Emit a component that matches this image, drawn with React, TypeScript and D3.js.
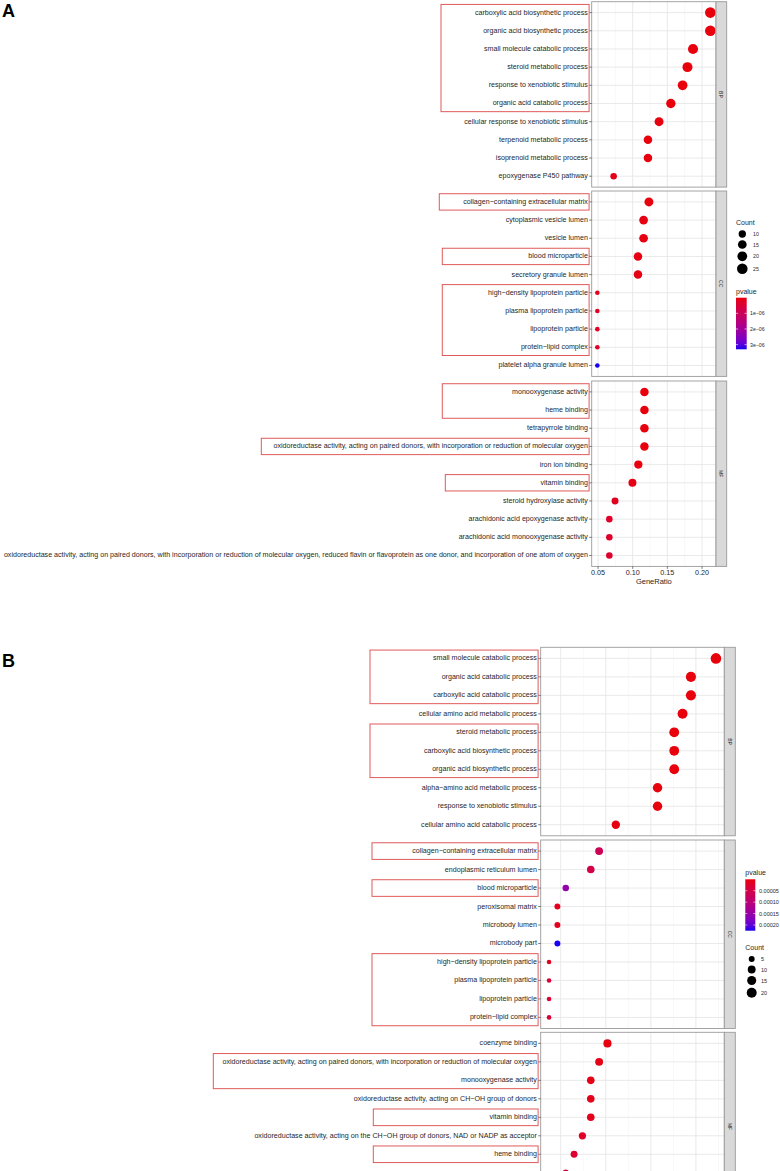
import React from 'react';
import * as d3 from 'd3';

// ---------------- Panel A data ----------------
const A_BP_terms = [
  'carboxylic acid biosynthetic process',
  'organic acid biosynthetic process',
  'small molecule catabolic process',
  'steroid metabolic process',
  'response to xenobiotic stimulus',
  'organic acid catabolic process',
  'cellular response to xenobiotic stimulus',
  'terpenoid metabolic process',
  'isoprenoid metabolic process',
  'epoxygenase P450 pathway',
];
const A_BP_ratio = [0.212, 0.212, 0.187, 0.179, 0.172, 0.155, 0.138, 0.122, 0.122, 0.0725];
const A_BP_count = [25, 25, 22, 21, 20, 18, 16, 14, 14, 8];
const A_BP_p = [2.1e-12, 3.5e-12, 1.2e-11, 4.0e-10, 6.3e-10, 2.2e-9, 1.5e-8, 8.0e-9, 9.1e-9, 1.1e-7];

const A_CC_terms = [
  'collagen\u2212containing extracellular matrix',
  'cytoplasmic vesicle lumen',
  'vesicle lumen',
  'blood microparticle',
  'secretory granule lumen',
  'high\u2212density lipoprotein particle',
  'plasma lipoprotein particle',
  'lipoprotein particle',
  'protein\u2212lipid complex',
  'platelet alpha granule lumen',
];
const A_CC_ratio = [0.1234, 0.1157, 0.1157, 0.1076, 0.1076, 0.049, 0.049, 0.049, 0.049, 0.049];
const A_CC_count = [16, 15, 15, 14, 14, 6, 6, 6, 6, 6];
const A_CC_p = [5.0e-9, 2.1e-8, 3.0e-8, 4.0e-8, 6.5e-8, 1.8e-7, 2.0e-7, 2.2e-7, 2.6e-7, 3.3e-6];

const A_MF_terms = [
  'monooxygenase activity',
  'heme binding',
  'tetrapyrrole binding',
  'oxidoreductase activity, acting on paired donors, with incorporation or reduction of molecular oxygen',
  'iron ion binding',
  'vitamin binding',
  'steroid hydroxylase activity',
  'arachidonic acid epoxygenase activity',
  'arachidonic acid monooxygenase activity',
  'oxidoreductase activity, acting on paired donors, with incorporation or reduction of molecular oxygen, reduced flavin or flavoprotein as one donor, and incorporation of one atom of oxygen',
];
const A_MF_ratio = [0.1169, 0.1169, 0.1169, 0.1169, 0.1081, 0.0996, 0.0745, 0.0663, 0.0663, 0.0663];
const A_MF_count = [14, 14, 14, 14, 13, 12, 9, 8, 8, 8];
const A_MF_p = [3e-9, 3e-9, 4e-9, 6e-9, 1.4e-8, 5e-8, 2e-7, 3e-7, 3e-7, 3.5e-7];

const A_xTicks = [0.05, 0.1, 0.15, 0.2];
const A_xTickLabels = ['0.05', '0.10', '0.15', '0.20'];
const A_countBreaks = [10, 15, 20, 25];
const A_pBreaks = [1e-6, 2e-6, 3e-6];
const A_pBreakLabels = ['1e\u221206', '2e\u221206', '3e\u221206'];

// ---------------- Panel B data ----------------
const B_BP_terms = [
  'small molecule catabolic process',
  'organic acid catabolic process',
  'carboxylic acid catabolic process',
  'cellular amino acid metabolic process',
  'steroid metabolic process',
  'carboxylic acid biosynthetic process',
  'organic acid biosynthetic process',
  'alpha\u2212amino acid metabolic process',
  'response to xenobiotic stimulus',
  'cellular amino acid catabolic process',
];
const B_BP_count = [24, 21, 21, 20, 19, 19, 19, 17, 17, 12];
const B_BP_ratio = [24 / 108, 21 / 108, 21 / 108, 20 / 108, 19 / 108, 19 / 108, 19 / 108, 17 / 108, 17 / 108, 12 / 108];
const B_BP_p = [1e-10, 3e-9, 4e-9, 2e-8, 3e-8, 3e-8, 3e-8, 1e-7, 1.5e-7, 2e-6];

const B_CC_terms = [
  'collagen\u2212containing extracellular matrix',
  'endoplasmic reticulum lumen',
  'blood microparticle',
  'peroxisomal matrix',
  'microbody lumen',
  'microbody part',
  'high\u2212density lipoprotein particle',
  'plasma lipoprotein particle',
  'lipoprotein particle',
  'protein\u2212lipid complex',
];
const B_CC_count = [10, 9, 6, 5, 5, 5, 4, 4, 4, 4];
const B_CC_ratio = [10 / 108, 9 / 108, 6 / 108, 5 / 108, 5 / 108, 5 / 108, 4 / 108, 4 / 108, 4 / 108, 4 / 108];
const B_CC_p = [6.5e-5, 5.0e-5, 1.55e-4, 1.0e-5, 1.0e-5, 2.25e-4, 1.2e-5, 3.2e-5, 3.2e-5, 3.5e-5];

const B_MF_terms = [
  'coenzyme binding',
  'oxidoreductase activity, acting on paired donors, with incorporation or reduction of molecular oxygen',
  'monooxygenase activity',
  'oxidoreductase activity, acting on CH\u2212OH group of donors',
  'vitamin binding',
  'oxidoreductase activity, acting on the CH\u2212OH group of donors, NAD or NADP as acceptor',
  'heme binding',
  'tetrapyrrole binding',
  'iron ion binding',
  'steroid hydroxylase activity',
];
const B_MF_count = [11, 10, 9, 9, 9, 8, 7, 6, 6, 5];
const B_MF_ratio = [11 / 108, 10 / 108, 9 / 108, 9 / 108, 9 / 108, 8 / 108, 7 / 108, 6 / 108, 6 / 108, 5 / 108];
const B_MF_p = [2e-6, 4e-6, 6e-6, 8e-6, 9e-6, 2e-5, 3e-5, 4e-5, 5e-5, 5e-5];

const B_xTicks = [0.05, 0.1, 0.15, 0.2];
const B_countBreaks = [5, 10, 15, 20];
const B_pBreaks = [5e-5, 1e-4, 1.5e-4, 2e-4];
const B_pBreakLabels = ['0.00005', '0.00010', '0.00015', '0.00020'];

// highlighted groups (panel, first term index, last term index, box left edge)
const A_boxes = [
  { panel: 0, from: 0, to: 5, left: 441 },
  { panel: 1, from: 0, to: 0, left: 439.3 },
  { panel: 1, from: 3, to: 3, left: 442.3 },
  { panel: 1, from: 5, to: 8, left: 442.3 },
  { panel: 2, from: 0, to: 1, left: 442.3 },
  { panel: 2, from: 3, to: 3, left: 261.3 },
  { panel: 2, from: 5, to: 5, left: 445.3 },
];
const B_boxes = [
  { panel: 0, from: 0, to: 2, left: 370 },
  { panel: 0, from: 4, to: 6, left: 370 },
  { panel: 1, from: 0, to: 0, left: 372 },
  { panel: 1, from: 2, to: 2, left: 372 },
  { panel: 1, from: 6, to: 9, left: 372 },
  { panel: 2, from: 1, to: 2, left: 213.3 },
  { panel: 2, from: 4, to: 4, left: 373.3 },
  { panel: 2, from: 6, to: 6, left: 373.3 },
];

type PanelData = { name: string; terms: string[]; ratio: number[]; count: number[]; p: number[] };

const A_panels: PanelData[] = [
  { name: 'BP', terms: A_BP_terms, ratio: A_BP_ratio, count: A_BP_count, p: A_BP_p },
  { name: 'CC', terms: A_CC_terms, ratio: A_CC_ratio, count: A_CC_count, p: A_CC_p },
  { name: 'MF', terms: A_MF_terms, ratio: A_MF_ratio, count: A_MF_count, p: A_MF_p },
];
const B_panels: PanelData[] = [
  { name: 'BP', terms: B_BP_terms, ratio: B_BP_ratio, count: B_BP_count, p: B_BP_p },
  { name: 'CC', terms: B_CC_terms, ratio: B_CC_ratio, count: B_CC_count, p: B_CC_p },
  { name: 'MF', terms: B_MF_terms, ratio: B_MF_ratio, count: B_MF_count, p: B_MF_p },
];

const FONT = '"Liberation Sans", Arial, Helvetica, sans-serif';
const TXT = '#1f1f1f';
const PAGE_H = 1171;

type Layout = {
  id: string;
  left: number;
  right: number;
  stripW: number;
  tops: number[];
  height: number;
  countLegend: { x: number; titleY: number; ys: number[]; keyX: number; labelX: number };
  pLegend: { x: number; titleY: number; barTop: number; barBottom: number; barW: number; labelX: number };
  legendFont: number;
  showAxis: boolean;
};

function DotPlot({ panels, layout, xTicks, xTickLabels, countBreaks, pBreaks, pBreakLabels, boxes }: any) {
  const L: Layout = layout;
  const allRatio = panels.flatMap((p: PanelData) => p.ratio);
  const allCount = panels.flatMap((p: PanelData) => p.count);
  const allP = panels.flatMap((p: PanelData) => p.p);
  const [rmin, rmax] = d3.extent(allRatio) as [number, number];
  const pad = (rmax - rmin) * 0.05;
  const x = d3.scaleLinear().domain([rmin - pad, rmax + pad]).range([L.left, L.right]);
  const [cmin, cmax] = d3.extent(allCount) as [number, number];
  const size = (c: number) => 2.3 + 3.0 * Math.sqrt((c - cmin) / (cmax - cmin));
  const [pmin, pmax] = d3.extent(allP) as [number, number];
  const color = d3.scaleLinear<string>().domain([pmin, pmax]).range(['#e8000c', '#1a00f0']).interpolate(d3.interpolateLab);

  const dom = x.domain();
  const minor: number[] = [];
  for (let i = 0; i < xTicks.length + 1; i++) {
    const st = xTicks[1] - xTicks[0];
    const v = xTicks[0] - st / 2 + i * st;
    if (v > dom[0] && v < dom[1]) minor.push(v);
  }

  const ys = panels.map((pd: PanelData, i: number) =>
    d3.scalePoint<string>().domain(pd.terms).range([L.tops[i], L.tops[i] + L.height]).padding(0.6)
  );
  const step = ys[0].step();
  const bottom = L.tops[2] + L.height;

  const gradStops = d3.range(0, 1.0001, 0.1);
  const pl = L.pLegend;
  const pScale = d3.scaleLinear().domain([pmin, pmax]).range([pl.barTop, pl.barBottom]);
  const cl = L.countLegend;

  return (
    <g>
      <defs>
        <linearGradient id={`grad-${L.id}`} x1="0" y1="0" x2="0" y2="1">
          {gradStops.map((t: number) => (
            <stop key={t} offset={t} stopColor={color(pmin + t * (pmax - pmin))} />
          ))}
        </linearGradient>
        {panels.map((pd: PanelData, i: number) => (
          <clipPath id={`clip-${L.id}-${i}`} key={i}>
            <rect x={L.left} y={L.tops[i]} width={L.right - L.left} height={L.height} />
          </clipPath>
        ))}
      </defs>
      {panels.map((pd: PanelData, i: number) => {
        const y = ys[i];
        const top = L.tops[i];
        return (
          <g key={pd.name}>
            <rect x={L.left} y={top} width={L.right - L.left} height={L.height} fill="white" />
            {minor.map((v) => (
              <line key={'mn' + v} x1={x(v)} x2={x(v)} y1={top} y2={top + L.height} stroke="#f0f0f0" strokeWidth={0.5} />
            ))}
            {xTicks.map((v: number) => (
              <line key={'mj' + v} x1={x(v)} x2={x(v)} y1={top} y2={top + L.height} stroke="#e6e6e6" strokeWidth={0.9} />
            ))}
            {pd.terms.map((t) => (
              <line key={'h' + t} x1={L.left} x2={L.right} y1={y(t)!} y2={y(t)!} stroke="#e6e6e6" strokeWidth={0.9} />
            ))}
            <g clipPath={`url(#clip-${L.id}-${i})`}>
              {pd.terms.map((t, j) => (
                <circle key={'c' + t} cx={x(pd.ratio[j])} cy={y(t)!} r={size(pd.count[j])} fill={color(pd.p[j])} />
              ))}
            </g>
            <rect x={L.left} y={top} width={L.right - L.left} height={L.height} fill="none" stroke="#9a9a9a" strokeWidth={0.9} />
            <rect x={L.right} y={top} width={L.stripW} height={L.height} fill="#d9d9d9" stroke="#9a9a9a" strokeWidth={0.9} />
            <text
              transform={`translate(${L.right + L.stripW / 2},${top + L.height / 2}) rotate(90)`}
              textAnchor="middle"
              dominantBaseline="central"
              fontSize={5}
              fontFamily={FONT}
              fill={TXT}
            >
              {pd.name}
            </text>
            {pd.terms
              .filter((t) => y(t)! < PAGE_H - 3)
              .map((t) => (
                <g key={'l' + t}>
                  <line x1={L.left - 2.5} x2={L.left} y1={y(t)!} y2={y(t)!} stroke="#444" strokeWidth={0.7} />
                  <text
                    x={L.left - 3.8}
                    y={y(t)!}
                    textAnchor="end"
                    dominantBaseline="central"
                    fontSize={7.12}
                    fontFamily={FONT}
                    fill={TXT}
                  >
                    {t}
                  </text>
                </g>
              ))}
          </g>
        );
      })}
      {boxes.map((b: any, k: number) => {
        const y = ys[b.panel];
        const y0 = y(panels[b.panel].terms[b.from])! - step * 0.45;
        const y1 = y(panels[b.panel].terms[b.to])! + step * 0.45;
        return (
          <rect key={'b' + k} x={b.left} y={y0} width={L.left - 2.6 - b.left} height={y1 - y0} fill="none" stroke="#e05a5a" strokeWidth={1} />
        );
      })}
      {L.showAxis && (
        <g>
          {xTicks.map((v: number, i: number) => (
            <g key={'xt' + v}>
              <line x1={x(v)} x2={x(v)} y1={bottom} y2={bottom + 2.5} stroke="#444" strokeWidth={0.7} />
              <text x={x(v)} y={bottom + 6.2} textAnchor="middle" dominantBaseline="central" fontSize={7.2} fontFamily={FONT} fill={TXT}>
                {xTickLabels[i]}
              </text>
            </g>
          ))}
          <text x={(L.left + L.right) / 2} y={bottom + 14.7} textAnchor="middle" dominantBaseline="central" fontSize={7.5} fontFamily={FONT} fill={TXT}>
            GeneRatio
          </text>
        </g>
      )}
      {/* Count legend */}
      <g>
        <text x={cl.x} y={cl.titleY} dominantBaseline="central" fontSize={7} fontFamily={FONT} fill={TXT}>
          Count
        </text>
        {countBreaks.map((c: number, i: number) => (
          <g key={'cl' + c}>
            <circle cx={cl.keyX} cy={cl.ys[i]} r={size(c)} fill="black" />
            <text x={cl.labelX} y={cl.ys[i]} dominantBaseline="central" fontSize={L.legendFont} fontFamily={FONT} fill={TXT}>
              {c}
            </text>
          </g>
        ))}
      </g>
      {/* pvalue legend */}
      <g>
        <text x={pl.x} y={pl.titleY} dominantBaseline="central" fontSize={7} fontFamily={FONT} fill={TXT}>
          pvalue
        </text>
        <rect x={pl.x} y={pl.barTop} width={pl.barW} height={pl.barBottom - pl.barTop} fill={`url(#grad-${L.id})`} />
        {pBreaks.map((v: number, i: number) => (
          <g key={'pl' + v}>
            <line x1={pl.x} x2={pl.x + pl.barW / 5} y1={pScale(v)} y2={pScale(v)} stroke="white" strokeWidth={0.6} />
            <line x1={pl.x + pl.barW} x2={pl.x + pl.barW * 0.8} y1={pScale(v)} y2={pScale(v)} stroke="white" strokeWidth={0.6} />
            <text x={pl.labelX} y={pScale(v)} dominantBaseline="central" fontSize={L.legendFont} fontFamily={FONT} fill={TXT}>
              {pBreakLabels[i]}
            </text>
          </g>
        ))}
      </g>
    </g>
  );
}

const layoutA: Layout = {
  id: 'A',
  left: 591.7,
  right: 716,
  stripW: 10.7,
  tops: [1.7, 191, 381],
  height: 185.4,
  countLegend: { x: 736, titleY: 222.7, ys: [234, 244.5, 256.3, 268.7], keyX: 742.3, labelX: 753 },
  pLegend: { x: 736, titleY: 291.7, barTop: 297.7, barBottom: 349.3, barW: 10.7, labelX: 750 },
  legendFont: 5.2,
  showAxis: true,
};

const layoutB: Layout = {
  id: 'B',
  left: 540.7,
  right: 724.3,
  stripW: 11,
  tops: [647.3, 840, 1032.3],
  height: 188.5,
  countLegend: { x: 745.3, titleY: 947.3, ys: [959, 969.5, 980.5, 992.7], keyX: 751.7, labelX: 761 },
  pLegend: { x: 745.3, titleY: 872.7, barTop: 879.3, barBottom: 930.7, barW: 10, labelX: 759 },
  legendFont: 5.5,
  showAxis: false,
};

export default function App() {
  return (
    <svg
      width={780}
      height={PAGE_H}
      viewBox={`0 0 780 ${PAGE_H}`}
      style={{ position: 'absolute', left: 0, top: 0, background: 'white' }}
    >
      <rect x={0} y={0} width={780} height={PAGE_H} fill="white" />
      <text x={2} y={17} fontSize={18} fontWeight="bold" fontFamily={FONT} fill="black">
        A
      </text>
      <text x={2} y={667} fontSize={18} fontWeight="bold" fontFamily={FONT} fill="black">
        B
      </text>
      <DotPlot
        panels={A_panels}
        layout={layoutA}
        xTicks={A_xTicks}
        xTickLabels={A_xTickLabels}
        countBreaks={A_countBreaks}
        pBreaks={A_pBreaks}
        pBreakLabels={A_pBreakLabels}
        boxes={A_boxes}
      />
      <DotPlot
        panels={B_panels}
        layout={layoutB}
        xTicks={B_xTicks}
        xTickLabels={[]}
        countBreaks={B_countBreaks}
        pBreaks={B_pBreaks}
        pBreakLabels={B_pBreakLabels}
        boxes={B_boxes}
      />
    </svg>
  );
}
